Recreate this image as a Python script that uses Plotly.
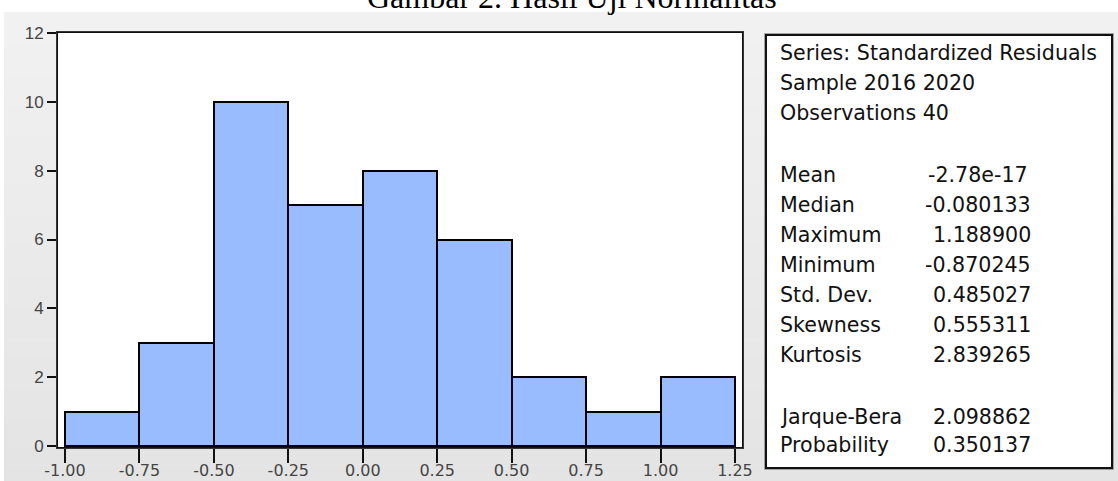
import plotly.graph_objects as go

# ---- data ----
bin_edges = [-1.00, -0.75, -0.50, -0.25, 0.00, 0.25, 0.50, 0.75, 1.00, 1.25]
counts = [1, 3, 10, 7, 8, 6, 2, 1, 2]
x_tick_vals = [-1.00, -0.75, -0.50, -0.25, 0.00, 0.25, 0.50, 0.75, 1.00, 1.25]
x_tick_text = ["-1.00", "-0.75", "-0.50", "-0.25", "0.00", "0.25", "0.50", "0.75", "1.00", "1.25"]
y_tick_vals = [0, 2, 4, 6, 8, 10, 12]

header_lines = ["Series: Standardized Residuals", "Sample 2016 2020", "Observations 40"]
stat_labels = ["Mean", "Median", "Maximum", "Minimum", "Std. Dev.", "Skewness", "Kurtosis",
               "Jarque-Bera", "Probability"]
stat_values = ["-2.78e-17", "-0.080133", "1.188900", "-0.870245", "0.485027", "0.555311",
               "2.839265", "2.098862", "0.350137"]
title_text = "Gambar 2. Hasil Uji Normalitas"

# ---- layout geometry (pixels) ----
W, H = 1118, 481
PL, PR, PT, PB = 58, 742, 33, 447


def fx(px):
    return (px - PL) / (PR - PL)


def fy(py):
    return (PB - py) / (PB - PT)


bin_width = bin_edges[1] - bin_edges[0]
bar_x = [e for e in bin_edges[:-1]]

fig = go.Figure()
fig.add_trace(go.Bar(
    x=bar_x, y=counts, width=bin_width, offset=0,
    marker=dict(color="rgb(153,187,255)", line=dict(color="black", width=2)),
    hoverinfo="skip", showlegend=False,
))

shapes = []
# gray gradient panel
nb = 30
top, bot = 12, H
for i in range(nb):
    y0 = top + (bot - top) * i / nb
    y1 = top + (bot - top) * (i + 1) / nb + 0.5
    c = round(241 - (241 - 228) * i / (nb - 1))
    shapes.append(dict(type="rect", xref="paper", yref="paper", layer="below",
                       x0=fx(4), x1=fx(W + 2), y0=fy(y1), y1=fy(y0),
                       fillcolor=f"rgb({c},{c},{c})", line=dict(width=0)))
# white plot area
shapes.append(dict(type="rect", xref="paper", yref="paper", layer="below",
                   x0=0, x1=1, y0=0, y1=1, fillcolor="white", line=dict(width=0)))
# plot-frame soft shadow
shapes.append(dict(type="rect", xref="paper", yref="paper", layer="above",
                   x0=fx(PL - 1.5), x1=fx(PR + 1.5), y0=fy(PB + 1.5), y1=fy(PT - 1.5),
                   line=dict(color="rgba(90,90,90,0.5)", width=1)))
# stats box
BX0, BX1, BY0, BY1 = 766, 1112, 35, 468
shapes.append(dict(type="rect", xref="paper", yref="paper", layer="above",
                   x0=fx(BX0 - 1.5), x1=fx(BX1 + 1.5), y0=fy(BY1 + 1.5), y1=fy(BY0 - 1.5),
                   line=dict(color="rgba(90,90,90,0.5)", width=1)))
shapes.append(dict(type="rect", xref="paper", yref="paper", layer="above",
                   x0=fx(BX0), x1=fx(BX1), y0=fy(BY1), y1=fy(BY0),
                   fillcolor="white", line=dict(color="#111", width=2)))

annotations = []
txt_font = dict(family="DejaVu Sans", size=20.6, color="#111")
header_y = [53, 83, 113]
for t, yy in zip(header_lines, header_y):
    annotations.append(dict(text=t, xref="paper", yref="paper", x=fx(778), y=fy(yy),
                            xanchor="left", yanchor="middle", showarrow=False, font=txt_font))
stat_y = [175, 205, 235, 265, 295, 325, 355, 417, 445]
for lab, val, yy in zip(stat_labels, stat_values, stat_y):
    annotations.append(dict(text=lab, xref="paper", yref="paper", x=fx(778), y=fy(yy),
                            xanchor="left", yanchor="middle", showarrow=False, font=txt_font))
    if val.endswith("e-17"):
        annotations.append(dict(text=val, xref="paper", yref="paper", x=fx(926), y=fy(yy),
                                xanchor="left", yanchor="middle", showarrow=False, font=txt_font))
    else:
        annotations.append(dict(text=val, xref="paper", yref="paper", x=fx(1033), y=fy(yy),
                                xanchor="right", yanchor="middle", showarrow=False, font=txt_font))
# title (partly cut at top, as in the source image)
annotations.append(dict(text=title_text, xref="paper", yref="paper", x=fx(572), y=fy(17),
                        xanchor="center", yanchor="bottom", showarrow=False,
                        font=dict(family="Liberation Serif", size=32, color="black")))

px_per_unit_x = 74.44 / 0.25
x_left = -1.0 - (65 - PL) / px_per_unit_x
x_right = -1.0 + (PR - 65) / px_per_unit_x
px_per_unit_y = (446 - PT) / 12.0
y_bottom = -(PB - 446) / px_per_unit_y

fig.update_layout(
    width=W, height=H,
    margin=dict(l=PL, r=W - PR, t=PT, b=H - PB, pad=0, autoexpand=False),
    paper_bgcolor="white", plot_bgcolor="rgba(0,0,0,0)",
    shapes=shapes, annotations=annotations,
    bargap=0, showlegend=False,
)
fig.update_xaxes(range=[x_left, x_right], tickvals=x_tick_vals, ticktext=x_tick_text,
                 automargin=False,
                 showgrid=False, zeroline=False, showline=True, linecolor="#111", linewidth=2,
                 mirror=True, ticks="outside", ticklen=14, tickwidth=2, tickcolor="#111",
                 ticklabelstandoff=-6,
                 tickfont=dict(family="DejaVu Sans", size=16, color="#444"))
fig.update_yaxes(range=[y_bottom, 12.0], tickvals=y_tick_vals,
                 automargin=False,
                 showgrid=False, zeroline=False, showline=True, linecolor="#111", linewidth=2,
                 mirror=True, ticks="outside", ticklen=9, tickwidth=2, tickcolor="#111",
                 tickfont=dict(family="Liberation Sans", size=17, color="#444"))

fig.write_html("out.html", config={"displayModeBar": False},
               post_script="document.body.style.margin='0px';document.body.style.overflow='hidden';")
